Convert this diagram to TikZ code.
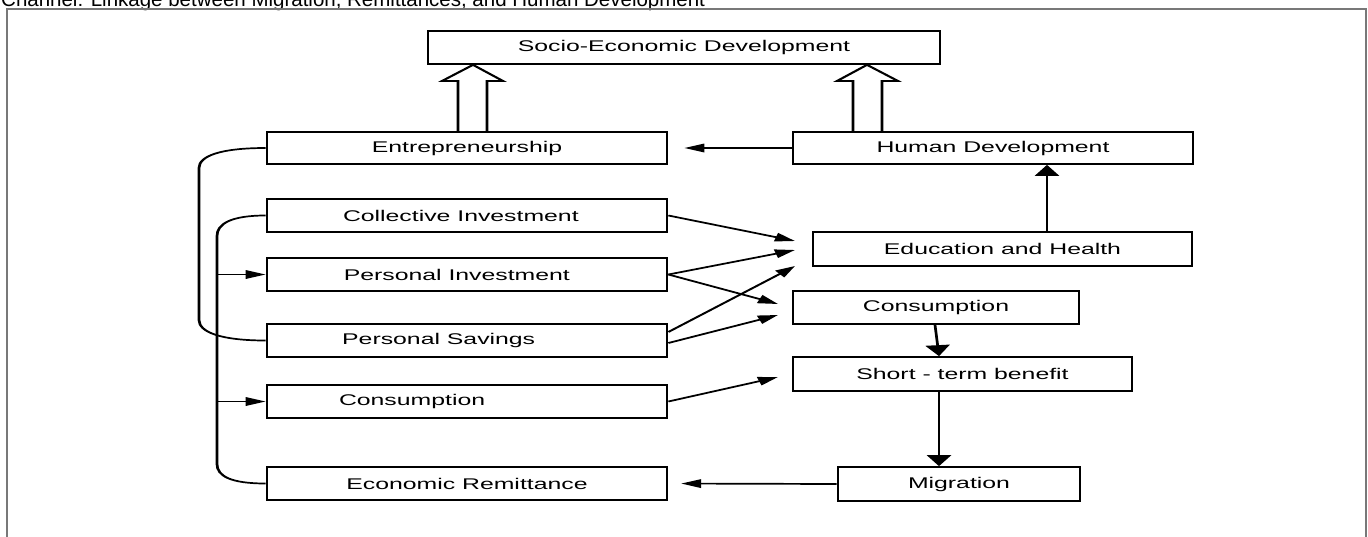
\documentclass[tikz,border=0pt]{standalone}
\usepackage{fontspec}
\setmainfont{Liberation Sans}
\usetikzlibrary{arrows.meta}
\definecolor{framecol}{RGB}{120,120,120}
\tikzset{
  box/.style={draw, line width=1.7pt, minimum height=33pt, inner xsep=0pt, inner ysep=0pt,
    font=\fontsize{15.5}{18}\selectfont},
  link/.style={line width=1.7pt},
  hconn/.style={line width=1.7pt, -{Triangle[length=12.5pt,width=8.5pt]}},
  vconn/.style={line width=1.7pt, -{Triangle[length=11pt,width=15pt]}},
  hollow/.style={line width=1.8pt, line join=miter},
}
\newcommand{\lefttext}[2]{\makebox[250pt][l]{\hspace*{#1}#2}}
\begin{document}
\begin{tikzpicture}[x=1pt,y=-1pt]
\useasboundingbox (0,0) rectangle (1368,536);
\fill[white] (0,0) rectangle (1368,536);
\node[anchor=base west, inner sep=0pt, font=\fontsize{20.5}{24}\selectfont] (title) at (1,6)
  {Channel: Linkage between Migration, Remittances, and Human Development};
\draw[framecol, line width=1.2pt] (7,545) -- (7,9) -- (1366,9) -- (1366,545);
\begin{scope}[transform canvas={xscale=1.6}, x=0.625pt, y=-1pt]
  % boxes
  \node[box, minimum width=320pt] (sed) at (684,47.5) {Socio-Economic Development};
  \node[box, minimum width=250pt, minimum height=32pt] (entr) at (467,148) {Entrepreneurship};
  \node[box, minimum width=250pt, minimum height=32pt] (hd) at (993,148) {Human Development};
  \node[box, minimum width=250pt] (ci) at (467,215.5) {\lefttext{47.5pt}{Collective Investment}};
  \node[box, minimum width=250pt] (pi) at (467,274.5) {\lefttext{48pt}{Personal Investment}};
  \node[box, minimum width=250pt] (ps) at (467,340.5) {\lefttext{47pt}{Personal Savings}};
  \node[box, minimum width=250pt] (consl) at (467,401.5) {\lefttext{45pt}{Consumption}};
  \node[box, minimum width=250pt] (er) at (467,483.5) {Economic Remittance};
  \node[box, minimum width=236.9pt, minimum height=34pt] (eh) at (1002.5,249) {Education and Health};
  \node[box, minimum width=178.75pt] (consr) at (936,307.5) {Consumption};
  \node[box, minimum width=211.9pt, minimum height=34pt] (stb) at (962.5,374) {Short - term benefit};
  \node[box, minimum width=151.25pt, minimum height=34pt] (mig) at (959,484) {Migration};
  % helper coordinates
  \coordinate (a1) at (458,0); \coordinate (a2) at (473,0); \coordinate (a3) at (487,0);
  \coordinate (b1) at (853,0); \coordinate (b2) at (867,0); \coordinate (b3) at (882,0);
  \coordinate (spA) at (199,0); \coordinate (spB) at (217,0);
  \coordinate (x1047) at (1047,0); \coordinate (x935) at (935,0); \coordinate (x939) at (939,0);
  \coordinate (t1) at (795,241); \coordinate (t2) at (795,250); \coordinate (t3) at (778,304);
  \coordinate (t4) at (795,266); \coordinate (t5) at (778,315); \coordinate (t6) at (778,377);
  % hollow arrows
  \draw[hollow] (entr.north -| a1) -- (458,81) -- (442,81) -- (sed.south -| a2) -- (503,81) -- (487,81) -- (entr.north -| a3);
  \draw[hollow] (hd.north -| b1) -- (853,81) -- (837,81) -- (sed.south -| b2) -- (898,81) -- (882,81) -- (hd.north -| b3);
  % left brackets
  \draw[link] (entr.west) .. controls +(-45,0) and +(0,-12) .. (199,168) -- (199,320)
     .. controls +(0,12) and +(-45,0) .. (ps.west);
  \draw[link] (ci.west) .. controls +(-35,0) and +(0,-12) .. (217,236) -- (217,464)
     .. controls +(0,12) and +(-35,0) .. (er.west);
  \draw[hconn] (pi.west -| spB) -- (pi.west);
  \draw[hconn] (consl.west -| spB) -- (consl.west);
  % right side
  \draw[hconn, shorten >=10pt] (hd.west) -- (entr.east);
  \draw[hconn, shorten >=8pt] (mig.west) -- (er.east);
  \draw[vconn] (eh.north -| x1047) -- (hd.south -| x1047);
  \draw[vconn] (consr.south -| x935) -- (stb.north -| x939);
  \draw[vconn] (stb.south -| x939) -- (mig.north -| x939);
  % diagonal links
  \draw[hconn] (ci.east) -- (t1);
  \draw[hconn] (pi.east) -- (t2);
  \draw[hconn] (pi.east) -- (t3);
  \draw[hconn] ([yshift=8.5pt]ps.east) -- (t4);
  \draw[hconn] ([yshift=-2.5pt]ps.east) -- (t5);
  \draw[hconn] (consl.east) -- (t6);
\end{scope}
\end{tikzpicture}
\end{document}
